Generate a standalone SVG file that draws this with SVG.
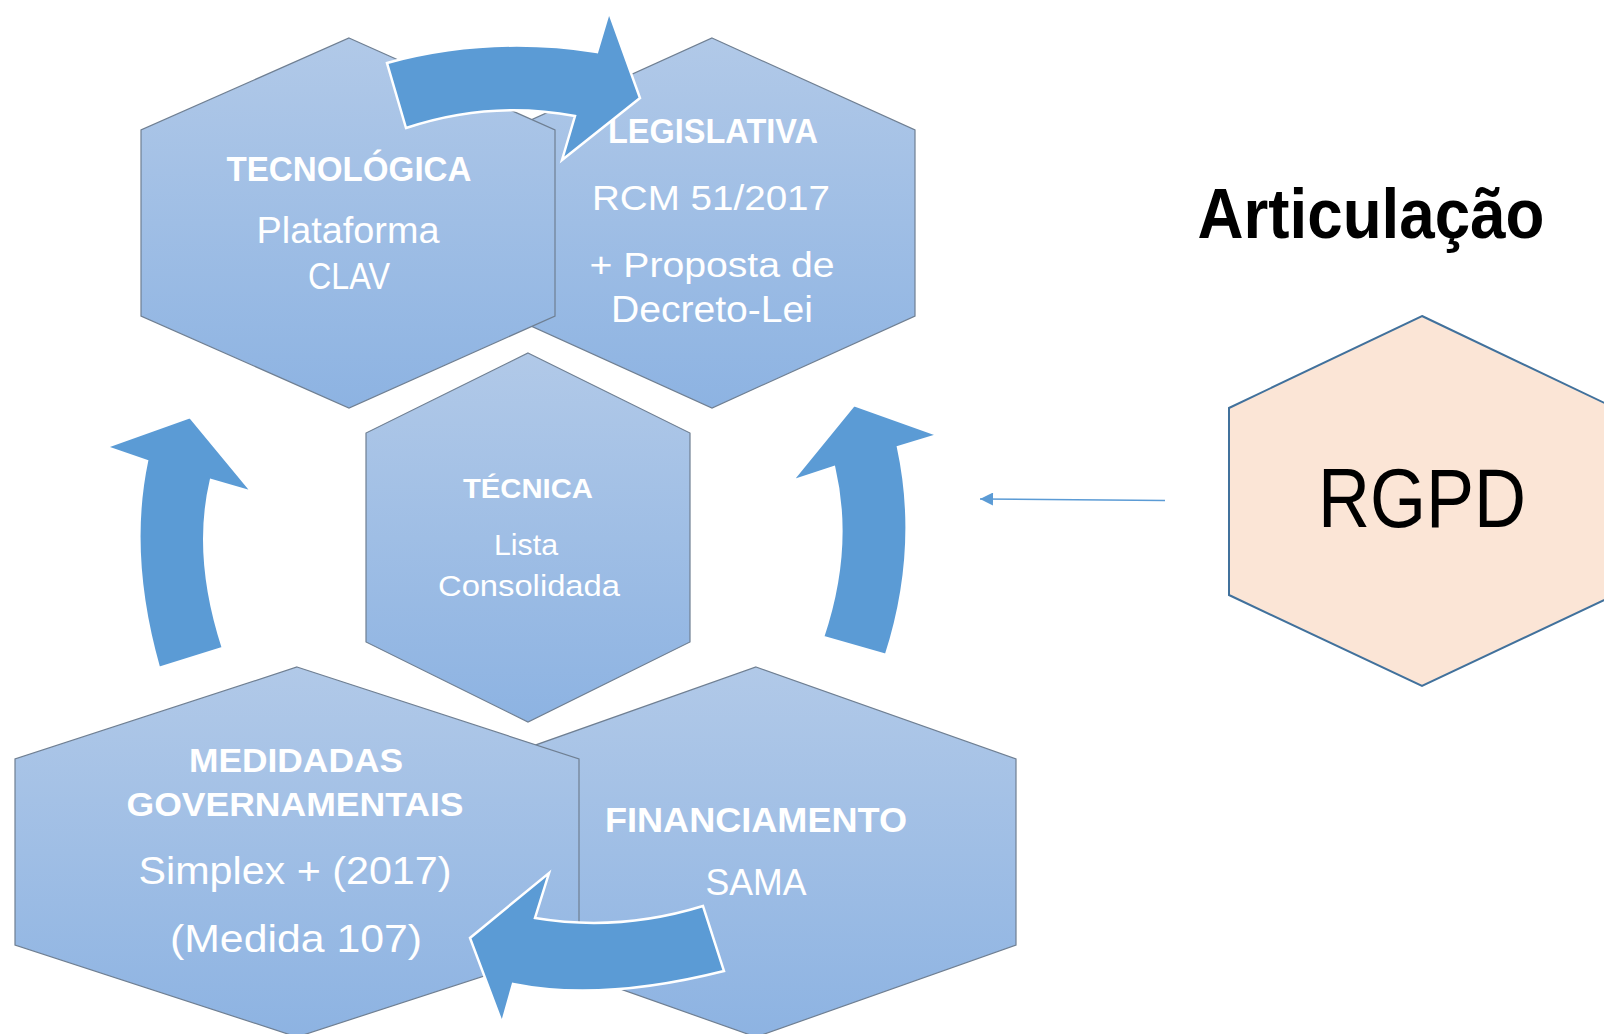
<svg xmlns="http://www.w3.org/2000/svg" width="1604" height="1034" viewBox="0 0 1604 1034">
<defs>
<linearGradient id="hexg" x1="0" y1="0" x2="0" y2="1">
<stop offset="0" stop-color="#B1C9E8"/>
<stop offset="1" stop-color="#8DB3E2"/>
</linearGradient>
<marker id="ah" viewBox="0 0 10 10" refX="10" refY="5" markerUnits="userSpaceOnUse" markerWidth="14" markerHeight="13" orient="auto">
<path d="M0,0 L10,5 L0,10 z" fill="#5B9BD5"/>
</marker>
<style>
.hex{fill:url(#hexg);stroke:#6F7F92;stroke-width:1.2}
.t{fill:#FFFFFF;font-family:"Liberation Sans",Arial,sans-serif;text-anchor:middle}
.b{font-weight:bold}
.blk{fill:#000000;font-family:"Liberation Sans",Arial,sans-serif;text-anchor:middle}
.arr{fill:#5B9BD5;stroke:#FFFFFF;stroke-width:2.5;stroke-linejoin:miter}
.thin{fill:none;stroke:#5B9BD5;stroke-width:1.6}
</style>
</defs>
<rect width="1604" height="1034" fill="#FFFFFF"/>

<g id="node-legislativa">
<polygon class="hex" points="712,38 915,130 915,316 712,408 509,316 509,130"/>
<text class="t b" x="713" y="143" font-size="35" textLength="210" lengthAdjust="spacingAndGlyphs">LEGISLATIVA</text>
<text class="t" x="711" y="210" font-size="35" textLength="238" lengthAdjust="spacingAndGlyphs">RCM 51/2017</text>
<text class="t" x="712" y="277" font-size="35" textLength="245" lengthAdjust="spacingAndGlyphs">+ Proposta de</text>
<text class="t" x="712" y="322" font-size="36" textLength="202" lengthAdjust="spacingAndGlyphs">Decreto-Lei</text>
</g>

<g id="node-tecnologica">
<polygon class="hex" points="349,38 555,130 555,316 349,408 141,316 141,130"/>
<text class="t b" x="349" y="181" font-size="35" textLength="245" lengthAdjust="spacingAndGlyphs">TECNOLÓGICA</text>
<text class="t" x="348" y="243" font-size="37" textLength="183" lengthAdjust="spacingAndGlyphs">Plataforma</text>
<text class="t" x="349" y="289" font-size="37" textLength="82" lengthAdjust="spacingAndGlyphs">CLAV</text>
</g>

<g id="node-tecnica">
<polygon class="hex" points="528,353 690,433 690,642 528,722 366,642 366,433"/>
<text class="t b" x="528" y="498" font-size="28" textLength="130" lengthAdjust="spacingAndGlyphs">TÉCNICA</text>
<text class="t" x="526" y="555" font-size="30" textLength="64" lengthAdjust="spacingAndGlyphs">Lista</text>
<text class="t" x="529" y="596" font-size="30" textLength="182" lengthAdjust="spacingAndGlyphs">Consolidada</text>
</g>

<g id="node-financiamento">
<polygon class="hex" points="756,667 1016,759 1016,945 756,1037 496,945 496,759"/>
<text class="t b" x="756" y="832" font-size="35" textLength="302" lengthAdjust="spacingAndGlyphs">FINANCIAMENTO</text>
<text class="t" x="756" y="895" font-size="37" textLength="101" lengthAdjust="spacingAndGlyphs">SAMA</text>
</g>

<g id="node-medidas">
<polygon class="hex" points="297,667 579,759 579,945 297,1037 15,945 15,759"/>
<text class="t b" x="296" y="772" font-size="33" textLength="214" lengthAdjust="spacingAndGlyphs">MEDIDADAS</text>
<text class="t b" x="295" y="816" font-size="33" textLength="337" lengthAdjust="spacingAndGlyphs">GOVERNAMENTAIS</text>
<text class="t" x="295" y="884" font-size="39" textLength="313" lengthAdjust="spacingAndGlyphs">Simplex + (2017)</text>
<text class="t" x="296" y="952" font-size="39" textLength="252" lengthAdjust="spacingAndGlyphs">(Medida 107)</text>
</g>

<g id="node-rgpd">
<polygon points="1422,316 1615,408 1615,595 1422,686 1229,595 1229,408" fill="#FBE5D6" stroke="#41719C" stroke-width="2"/>
<text class="blk" x="1422" y="527" font-size="84" textLength="208" lengthAdjust="spacingAndGlyphs">RGPD</text>
</g>

<g id="title">
<text class="blk b" x="1371" y="238" font-size="70" textLength="347" lengthAdjust="spacingAndGlyphs">Articulação</text>
</g>

<g id="connectors">
<path id="arrow-top" class="arr" d="M387,63 Q490,35 597,52 L609,12 L640,98 L562,160 L575,116 Q490,100 406,128 Z"/>
<path id="arrow-left" class="arr" d="M159,668 Q127,556 147,461 L106,447 L190,417 L252,492 L211,480 Q193,556 223,648 Z"/>
<path id="arrow-right" class="arr" d="M823,637 Q853,548 834,467 L792,481 L854,405 L938,435 L898,447 Q920,549 886,655 Z"/>
<path id="arrow-bottom" class="arr" d="M703,906 Q619,932 535,918 L549,873 L470,938 L502,1023 L513,984 Q601,1002 724,971 Z"/>
<line id="rgpd-link" class="thin" x1="1165" y1="500.5" x2="980" y2="499" marker-end="url(#ah)"/>
</g>
</svg>
